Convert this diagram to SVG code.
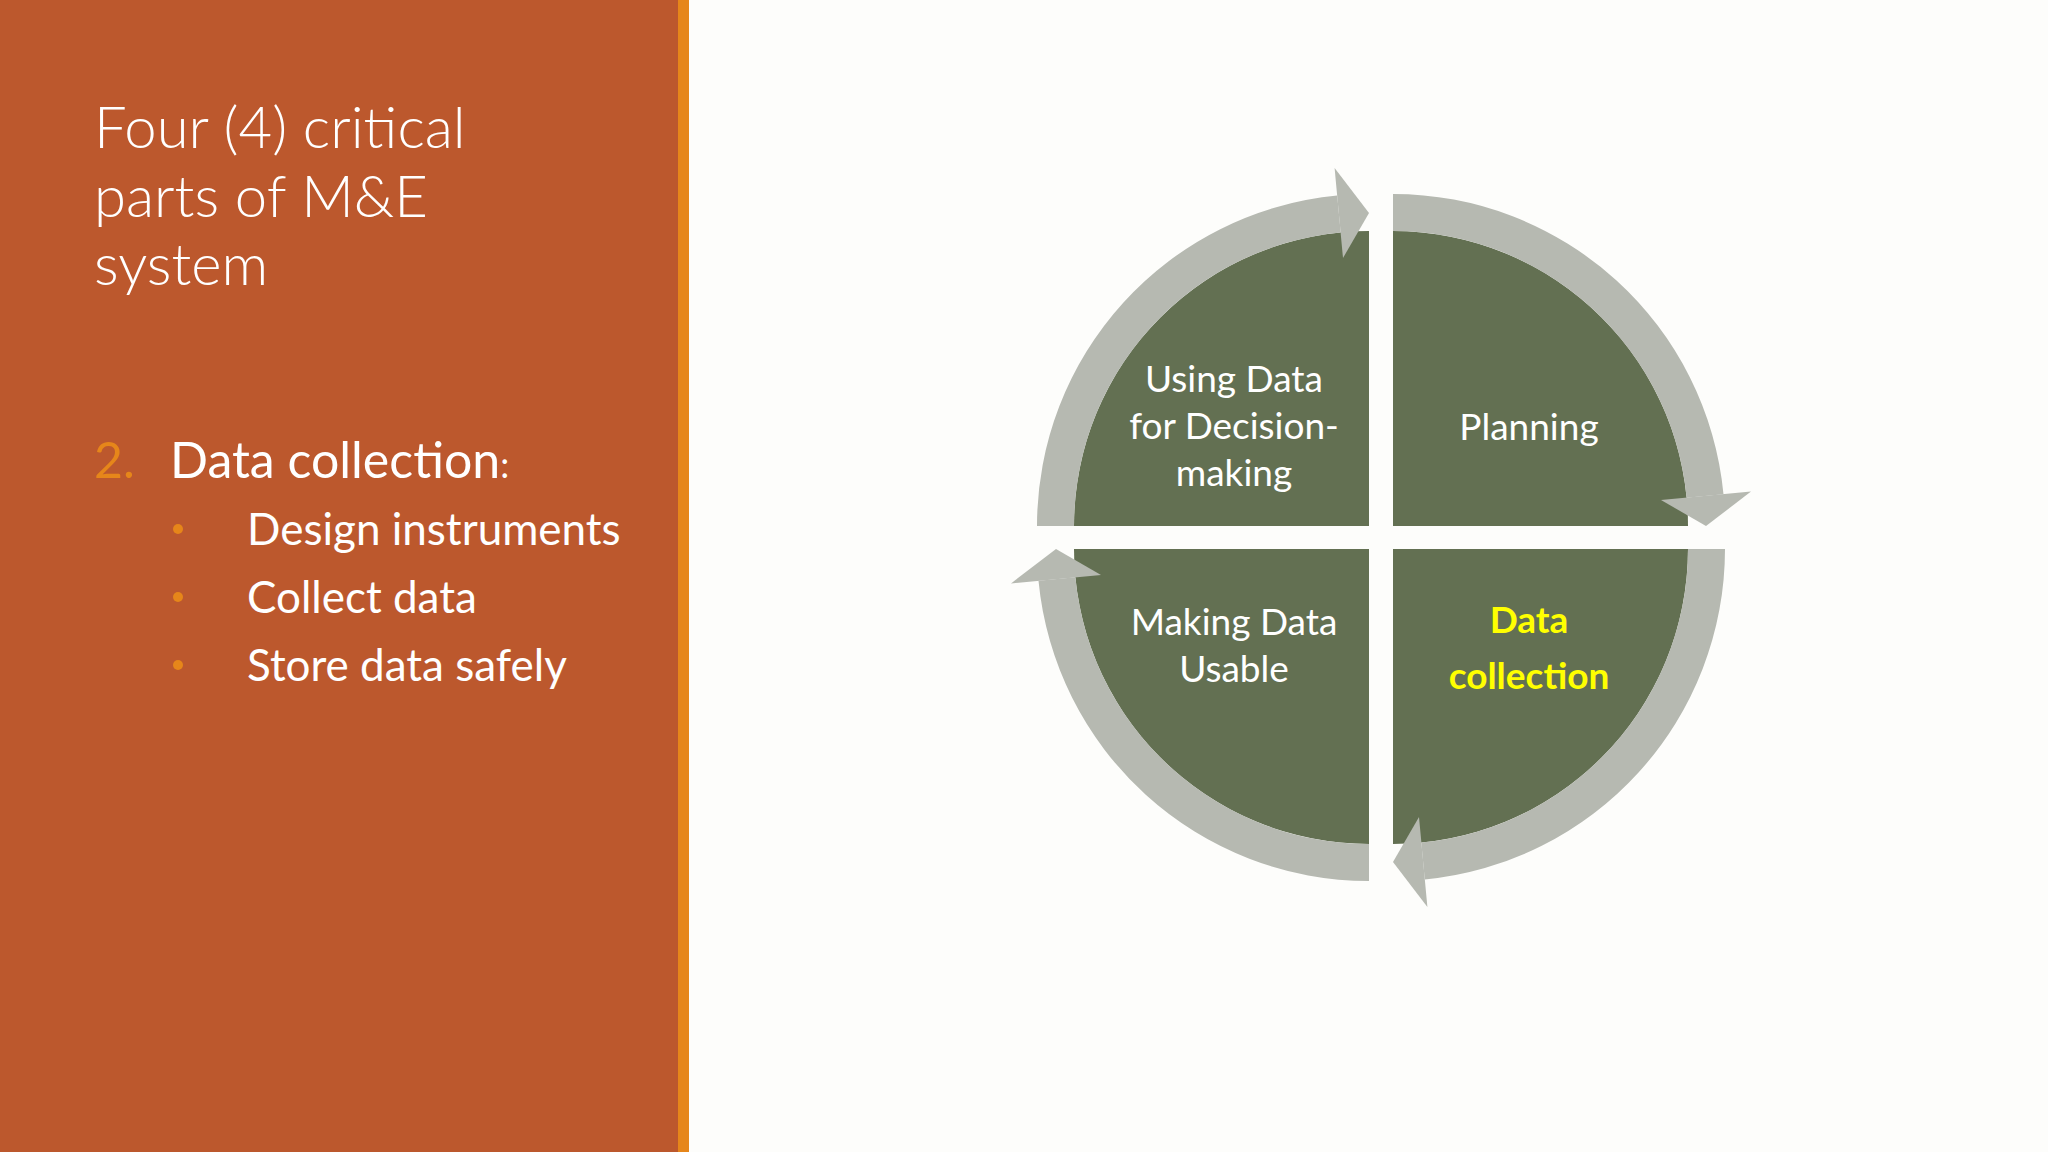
<svg xmlns="http://www.w3.org/2000/svg" width="2048" height="1152" viewBox="0 0 2048 1152">
<defs>
<style>
.t{font-family:Lato,"Open Sans","Liberation Sans",sans-serif;fill:#fff}
.c{font-family:Lato,"Open Sans","Liberation Sans",sans-serif;fill:#fff;font-size:37px;text-anchor:middle}
.g{fill:#637052}
.b{fill:#b6b9b1}
</style>
<g id="quad">
<path class="g" d="M0,0 L0,-295 A295,295 0 0 1 295,0 Z"/>
<path class="b" d="M0,-332 A332,332 0 0 1 330.5,-31.8 L293.6,-28.3 A295,295 0 0 0 0,-295 Z"/>
<polygon class="b" points="268,-26 313,0 358,-34.4"/>
</g>
</defs>
<rect width="2048" height="1152" fill="#fdfdfb"/>
<rect width="678" height="1152" fill="#bc582d"/>
<rect x="678" width="11" height="1152" fill="#e6861a"/>
<g id="title" class="t" font-size="58" font-weight="300">
<text x="94" y="148">Four (4) critical</text>
<text x="94" y="217">parts of M&amp;E</text>
<text x="94" y="285">system</text>
</g>
<g id="list" class="t">
<text x="94" y="478" font-size="50" fill="#e6861a" style="fill:#e6861a">2.</text>
<text x="170" y="478" font-size="50">Data collection<tspan font-size="36">:</tspan></text>
<circle cx="178" cy="529" r="5" fill="#e6861a"/>
<circle cx="178" cy="597" r="5" fill="#e6861a"/>
<circle cx="178" cy="665" r="5" fill="#e6861a"/>
<text x="247" y="545" font-size="44">Design instruments</text>
<text x="247" y="613" font-size="44">Collect data</text>
<text x="247" y="681" font-size="44">Store data safely</text>
</g>
<g id="connectors"></g>
<g id="planning">
<use href="#quad" transform="translate(1393,526)"/>
<text class="c" x="1529" y="440">Planning</text>
</g>
<g id="datacollection">
<use href="#quad" transform="translate(1393,549) rotate(90)"/>
<text class="c" x="1529" y="633" font-size="44" font-weight="bold" style="fill:#ffff00">Data</text>
<text class="c" x="1529" y="689" font-size="44" font-weight="bold" style="fill:#ffff00">collection</text>
</g>
<g id="usable">
<use href="#quad" transform="translate(1369,549) rotate(180)"/>
<text class="c" x="1234" y="635">Making Data</text>
<text class="c" x="1234" y="682">Usable</text>
</g>
<g id="decision">
<use href="#quad" transform="translate(1369,526) rotate(270)"/>
<text class="c" x="1234" y="392">Using Data</text>
<text class="c" x="1234" y="439">for Decision-</text>
<text class="c" x="1234" y="486">making</text>
</g>
</svg>
